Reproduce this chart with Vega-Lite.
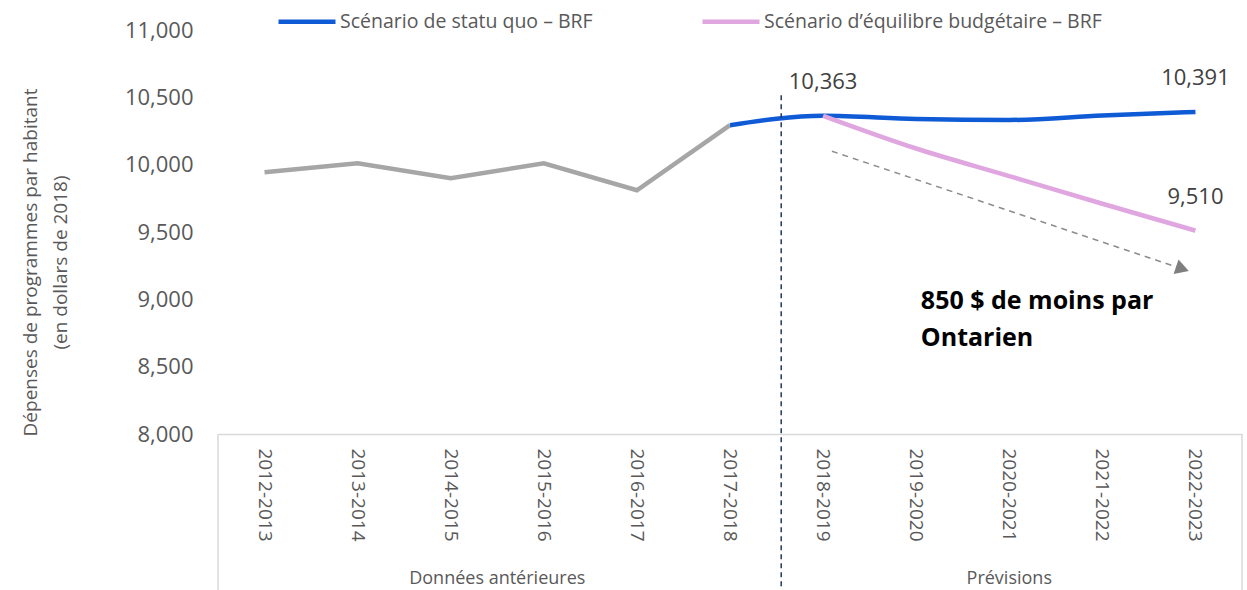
{
  "$schema": "https://vega.github.io/schema/vega-lite/v6.json",
  "autosize": {"type": "none"},
  "padding": {"left": 218, "top": 30, "right": 5, "bottom": 156},
  "width": 1024,
  "height": 404,
  "background": "white",
  "config": {
    "font": "Open Sans",
    "view": {"stroke": null},
    "legend": {"padding": 0}
  },
  "datasets": {
    "series": [
      {"periode": "2012-2013", "serie": "Historique", "valeur": 9943},
      {"periode": "2013-2014", "serie": "Historique", "valeur": 10010},
      {"periode": "2014-2015", "serie": "Historique", "valeur": 9899},
      {"periode": "2015-2016", "serie": "Historique", "valeur": 10010},
      {"periode": "2016-2017", "serie": "Historique", "valeur": 9810},
      {"periode": "2017-2018", "serie": "Historique", "valeur": 10293},
      {"periode": "2017-2018", "serie": "Scénario de statu quo – BRF", "valeur": 10293},
      {"periode": "2018-2019", "serie": "Scénario de statu quo – BRF", "valeur": 10363},
      {"periode": "2019-2020", "serie": "Scénario de statu quo – BRF", "valeur": 10340},
      {"periode": "2020-2021", "serie": "Scénario de statu quo – BRF", "valeur": 10332},
      {"periode": "2021-2022", "serie": "Scénario de statu quo – BRF", "valeur": 10365},
      {"periode": "2022-2023", "serie": "Scénario de statu quo – BRF", "valeur": 10391},
      {"periode": "2018-2019", "serie": "Scénario d’équilibre budgétaire – BRF", "valeur": 10363},
      {"periode": "2019-2020", "serie": "Scénario d’équilibre budgétaire – BRF", "valeur": 10120},
      {"periode": "2020-2021", "serie": "Scénario d’équilibre budgétaire – BRF", "valeur": 9915},
      {"periode": "2021-2022", "serie": "Scénario d’équilibre budgétaire – BRF", "valeur": 9710},
      {"periode": "2022-2023", "serie": "Scénario d’équilibre budgétaire – BRF", "valeur": 9510}
    ],
    "etiquettes": [
      {"periode": "2018-2019", "valeur": 10363},
      {"periode": "2022-2023", "valeur": 10391},
      {"periode": "2022-2023", "valeur": 9510}
    ],
    "fleche": [
      {"debut": "2018-2019", "fin": "2022-2023", "v0": 10100, "v1": 9237}
    ],
    "pointe": [
      {"periode": "2022-2023", "valeur": 9226}
    ],
    "note": [
      {"periode": "2019-2020", "valeur": 8985, "texte": "850 $ de moins par"},
      {"periode": "2019-2020", "valeur": 8710, "texte": "Ontarien"}
    ],
    "bords": [
      {"periode": "2012-2013"}
    ],
    "bordDroit": [
      {"periode": "2022-2023"}
    ],
    "separation": [
      {"periode": "2018-2019"}
    ],
    "groupeA": [
      {"periode": "2015-2016", "groupe": "Données antérieures"}
    ],
    "groupeB": [
      {"periode": "2020-2021", "groupe": "Prévisions"}
    ]
  },
  "layer": [
    {
      "data": {"name": "series"},
      "transform": [{"filter": "datum.serie === 'Historique'"}],
      "mark": {"type": "line", "color": "#a6a6a6", "strokeWidth": 4.5},
      "encoding": {
        "x": {
          "field": "periode", "type": "ordinal", "bandPosition": 0.5,
          "scale": {
            "type": "band", "paddingInner": 0, "paddingOuter": 0,
            "domain": ["2012-2013","2013-2014","2014-2015","2015-2016","2016-2017","2017-2018","2018-2019","2019-2020","2020-2021","2021-2022","2022-2023"]
          },
          "axis": {
            "title": null, "labelAngle": 90, "labelAlign": "left", "labelBaseline": "middle",
            "labelPadding": 14, "ticks": false, "domainColor": "#d9d9d9", "domainWidth": 1.5,
            "labelFontSize": 19, "labelColor": "#595959"
          }
        },
        "y": {
          "field": "valeur", "type": "quantitative",
          "scale": {"domain": [8000, 11000], "nice": false, "zero": false},
          "axis": {
            "values": [8000, 8500, 9000, 9500, 10000, 10500, 11000],
            "format": ",.0f", "grid": false, "domain": false, "ticks": false,
            "labelPadding": 25, "labelFontSize": 22, "labelColor": "#595959",
            "title": ["Dépenses de programmes par habitant", "(en dollars de 2018)"],
            "titleFontSize": 19, "titleFontWeight": "normal", "titleColor": "#595959",
            "titleAngle": -90, "titleAlign": "center", "titleBaseline": "middle",
            "titleLineHeight": 30, "titleX": -188, "titleY": 232
          }
        }
      }
    },
    {
      "data": {"name": "series"},
      "transform": [{"filter": "datum.serie !== 'Historique'"}],
      "mark": {"type": "line", "strokeWidth": 4.5, "interpolate": "monotone"},
      "encoding": {
        "x": {"field": "periode", "type": "ordinal", "bandPosition": 0.5},
        "y": {"field": "valeur", "type": "quantitative"},
        "color": {
          "field": "serie", "type": "nominal",
          "scale": {
            "domain": ["Scénario de statu quo – BRF", "Scénario d’équilibre budgétaire – BRF"],
            "range": ["#0f5bd6", "#dfa6df"]
          },
          "legend": {
            "title": null, "orient": "none", "direction": "horizontal",
            "legendX": 58, "legendY": -39.5,
            "symbolType": "stroke", "symbolSize": 3249, "symbolStrokeWidth": 4.5,
            "labelFontSize": 19.5, "labelColor": "#595959", "labelOffset": 2,
            "labelLimit": 0, "columnPadding": 100
          }
        }
      }
    },
    {
      "data": {"name": "etiquettes"},
      "mark": {"type": "text", "fontSize": 22, "color": "#404040", "dy": -34, "align": "center", "baseline": "middle"},
      "encoding": {
        "x": {"field": "periode", "type": "ordinal", "bandPosition": 0.5},
        "y": {"field": "valeur", "type": "quantitative"},
        "text": {"field": "valeur", "type": "quantitative", "format": ",.0f"}
      }
    },
    {
      "data": {"name": "fleche"},
      "mark": {"type": "rule", "color": "#8c8c8c", "strokeWidth": 1.5, "strokeDash": [6, 5]},
      "encoding": {
        "x": {"field": "debut", "type": "ordinal", "bandPosition": 0.595},
        "x2": {"field": "fin", "bandPosition": 0.31},
        "y": {"field": "v0", "type": "quantitative"},
        "y2": {"field": "v1"}
      }
    },
    {
      "data": {"name": "pointe"},
      "mark": {"type": "point", "shape": "triangle-right", "filled": true, "color": "#7f7f7f", "opacity": 1, "size": 240, "angle": 18.5},
      "encoding": {
        "x": {"field": "periode", "type": "ordinal", "bandPosition": 0.36},
        "y": {"field": "valeur", "type": "quantitative"}
      }
    },
    {
      "data": {"name": "note"},
      "mark": {"type": "text", "fontSize": 25, "fontWeight": "bold", "color": "#000000", "align": "left", "baseline": "middle"},
      "encoding": {
        "x": {"field": "periode", "type": "ordinal", "bandPosition": 0.55},
        "y": {"field": "valeur", "type": "quantitative"},
        "text": {"field": "texte"}
      }
    },
    {
      "data": {"name": "bords"},
      "mark": {"type": "rule", "color": "#d9d9d9", "strokeWidth": 1.5},
      "encoding": {
        "x": {"field": "periode", "type": "ordinal", "bandPosition": 0},
        "y": {"datum": 8000},
        "y2": {"datum": 6830}
      }
    },
    {
      "data": {"name": "bordDroit"},
      "mark": {"type": "rule", "color": "#d9d9d9", "strokeWidth": 1.5},
      "encoding": {
        "x": {"field": "periode", "type": "ordinal", "bandPosition": 1},
        "y": {"datum": 8000},
        "y2": {"datum": 6830}
      }
    },
    {
      "data": {"name": "separation"},
      "mark": {"type": "rule", "color": "#1f3864", "strokeWidth": 1.5, "strokeDash": [5, 4]},
      "encoding": {
        "x": {"field": "periode", "type": "ordinal", "bandPosition": 0.05},
        "y": {"datum": 10516},
        "y2": {"datum": 6830}
      }
    },
    {
      "data": {"name": "groupeA"},
      "mark": {"type": "text", "fontSize": 18, "color": "#595959", "align": "center", "baseline": "middle"},
      "encoding": {
        "x": {"field": "periode", "type": "ordinal", "bandPosition": 0},
        "y": {"datum": 6925},
        "text": {"field": "groupe"}
      }
    },
    {
      "data": {"name": "groupeB"},
      "mark": {"type": "text", "fontSize": 18, "color": "#595959", "align": "center", "baseline": "middle"},
      "encoding": {
        "x": {"field": "periode", "type": "ordinal", "bandPosition": 0.5},
        "y": {"datum": 6925},
        "text": {"field": "groupe"}
      }
    }
  ]
}
